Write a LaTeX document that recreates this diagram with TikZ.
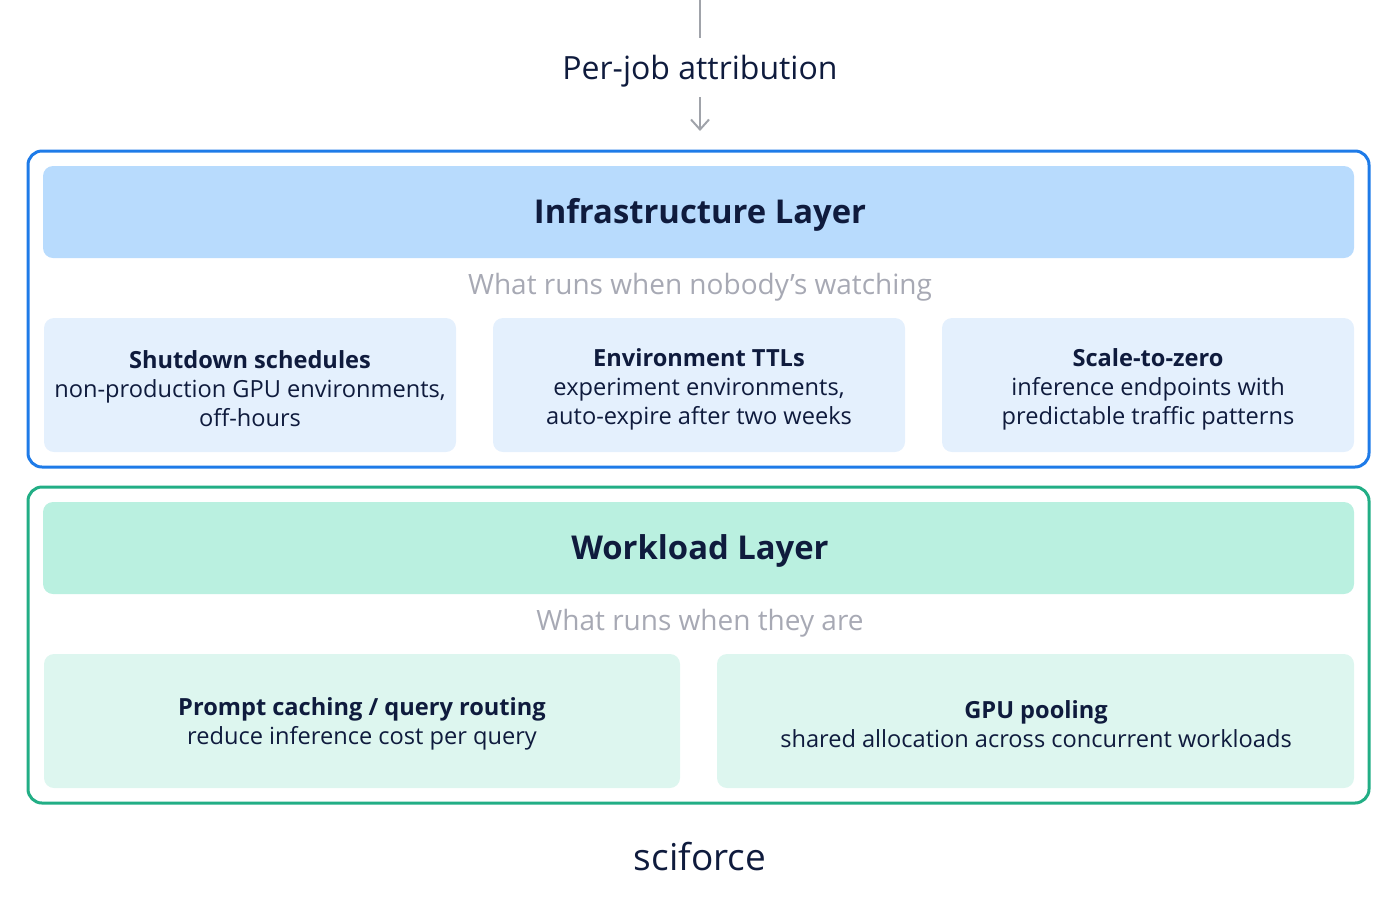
\documentclass[tikz,border=0pt]{standalone}
\usepackage{fontspec}
\setmainfont{Open Sans}
\usetikzlibrary{arrows.meta}
\definecolor{navy}{HTML}{0F1B3D}
\definecolor{subgray}{HTML}{A7A9B4}
\definecolor{linegray}{HTML}{A0A3AA}
\definecolor{infraedge}{HTML}{1E7BE8}
\definecolor{infrahead}{HTML}{B8DBFD}
\definecolor{infracard}{HTML}{E4F0FD}
\definecolor{workedge}{HTML}{22AE85}
\definecolor{workhead}{HTML}{BAF0E0}
\definecolor{workcard}{HTML}{DDF6EF}
\begin{document}
\begin{tikzpicture}[x=0.5pt,y=-0.5pt]
            \tikzstyle{frame}=[line width=1.5pt, rounded corners=7pt]
            \tikzstyle{band}=[rounded corners=5pt]
            \tikzstyle{card}=[rounded corners=5pt]
            \tikzstyle{head}=[font=\fontsize{16.4}{19}\selectfont\bfseries, text=navy]
            \tikzstyle{sub}=[font=\fontsize{14}{17}\selectfont, text=subgray]
            \tikzstyle{cardtext}=[align=center, text=navy, font=\fontsize{11.8}{14.5}\selectfont]
            \useasboundingbox (0,0) rectangle (1400,911);
            % attribution link
            \coordinate (top) at (700,0);
            \node[font=\fontsize{16}{19}\selectfont, text=navy] (attr) at (700,71) {Per-job attribution};
            \coordinate (arrowend) at (700,131);
            \draw[linegray, line width=1pt] (top) -- (700,38);
            \draw[linegray, line width=1pt, -{Straight Barb[length=5pt,width=9pt]}] (700,97) -- (arrowend);
            % infrastructure layer
            \draw[frame, infraedge] (28,151) rectangle (1369,467);
            \fill[band, infrahead] (43,166) rectangle (1354,258);
            \node[head] (infra) at (700,215) {Infrastructure Layer};
            \node[sub] (infrasub) at (700,287) {What runs when nobody’s watching};
            \fill[card, infracard] (44,318) rectangle (456,452);
            \fill[card, infracard] (493,318) rectangle (905,452);
            \fill[card, infracard] (942,318) rectangle (1354,452);
            \node[cardtext] (shut) at (250,389) {\textbf{Shutdown schedules}\\non-production GPU environments,\\off-hours};
            \node[cardtext] (ttl) at (699,389) {\textbf{Environment TTLs}\\experiment environments,\\auto-expire after two weeks};
            \node[cardtext] (scale) at (1148,389) {\textbf{Scale-to-zero}\\inference endpoints with\\predictable traffic patterns};
            % workload layer
            \draw[frame, workedge] (28,487) rectangle (1369,803);
            \fill[band, workhead] (43,502) rectangle (1354,594);
            \node[head] (work) at (700,551) {Workload Layer};
            \node[sub] (worksub) at (700,623) {What runs when they are};
            \fill[card, workcard] (44,654) rectangle (680,788);
            \fill[card, workcard] (717,654) rectangle (1354,788);
            \node[cardtext] (cache) at (362,724) {\textbf{Prompt caching / query routing}\\reduce inference cost per query};
            \node[cardtext] (pool) at (1036,724) {\textbf{GPU pooling}\\shared allocation across concurrent workloads};
            % logo
            \node[font=\fontsize{18.5}{22}\selectfont, text=navy] (logo) at (700,857) {sciforce};
\end{tikzpicture}
\end{document}
